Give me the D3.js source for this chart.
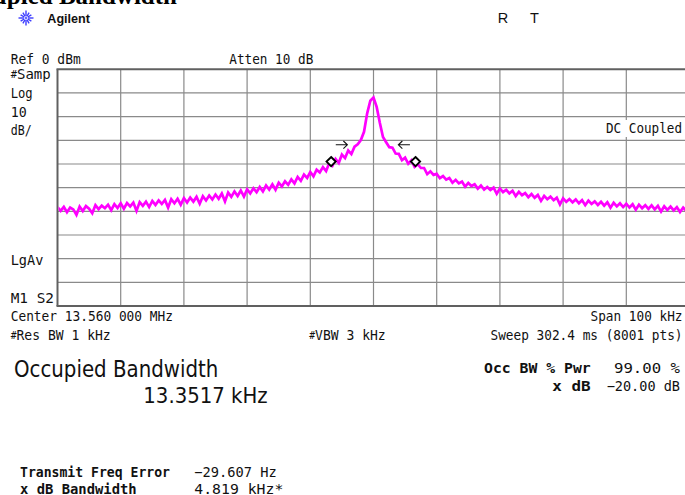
<!DOCTYPE html>
<html><head><meta charset="utf-8">
<script src="https://cdn.jsdelivr.net/npm/d3@7"></script>
<style>
html,body{margin:0;padding:0;background:#fff;}
svg{display:block;}
</style></head><body>
<svg id="chart" width="685" height="495"></svg>
<script>
// ---- Sweep settings ----
const centerMHz = 13.560;
const spanKHz = 100;
const refLevelDbm = 0;
const dbPerDiv = 10;
const divisions = 10;
const stepKHz = 0.5;           // trace sample spacing (kHz), first sample at -span/2

// ---- Trace: level in dBm, one value per 0.5 kHz from -50 kHz to +50 kHz ----
const traceDbm = [
  -58.2,-59.8,-58.1,-60.4,-58.4,-59.2,-61.5,-58.0,-59.9,-57.8,
  -58.9,-60.8,-57.4,-59.1,-57.6,-58.7,-57.2,-59.5,-57.0,-58.6,
  -56.6,-58.9,-56.5,-57.9,-56.3,-59.8,-56.1,-57.7,-55.9,-58.2,
  -55.6,-57.3,-55.4,-56.9,-55.2,-58.4,-54.9,-56.6,-54.7,-57.2,
  -54.4,-56.3,-54.2,-55.9,-53.9,-56.8,-53.6,-55.4,-53.3,-55.0,
  -52.9,-54.7,-52.5,-55.8,-52.1,-53.9,-51.6,-53.5,-51.2,-53.8,
  -50.7,-52.4,-50.3,-51.9,-49.7,-51.6,-49.1,-50.8,-48.6,-50.9,
  -47.9,-49.5,-47.3,-48.8,-46.5,-48.2,-45.5,-47.1,-44.5,-45.9,
  -43.4,-45.2,-42.4,-43.6,-41.3,-43.0,-39.6,-40.8,-37.9,-39.6,
  -36.0,-37.5,-34.3,-35.8,-32.7,-31.7,-29.9,-26.4,-18.6,-13.3,
  -11.9,
  -15.9,-22.6,-28.6,-30.8,-32.9,-33.1,-35.6,-35.7,-38.4,-37.3,
  -39.9,-38.5,-41.2,-40.1,-41.7,-41.7,-44.3,-43.1,-44.6,-44.2,
  -46.0,-45.1,-46.6,-45.9,-47.9,-46.7,-48.2,-47.4,-49.6,-48.0,
  -49.3,-48.6,-50.4,-49.1,-50.8,-49.7,-51.0,-50.0,-52.6,-50.4,
  -51.9,-50.9,-52.4,-51.3,-53.6,-51.8,-53.2,-52.3,-54.0,-52.7,
  -54.3,-53.1,-55.6,-53.5,-54.9,-53.8,-55.3,-54.2,-57.1,-54.5,
  -56.0,-54.8,-56.2,-55.0,-56.6,-55.3,-57.4,-55.5,-56.9,-55.8,
  -57.3,-56.0,-57.6,-56.2,-58.5,-56.4,-57.9,-56.6,-58.2,-56.8,
  -58.4,-57.0,-59.3,-57.2,-58.7,-57.4,-59.0,-57.5,-59.2,-57.7,
  -60.1,-57.9,-59.4,-58.0,-59.6,-58.2,-60.3,-58.4,-59.8,-58.5
];

// ---- Measurement results ----
const occBwKHz = 13.3517;
const occPowerPct = 99.00;
const xdbLevelDb = -20.00;
const freqErrorHz = -29.607;
const xdbBwKHz = 4.819;
const obwMarkerDbm = [-39.0, -39.0];     // level where the OBW edge markers sit
const xdbArrowKHz = [-5.05, 4.85];       // centres of the x dB arrow glyphs
const xdbArrowDir = [1, -1];             // → and ←

const svg = d3.select("#chart");
const MONO = "'DejaVu Sans Mono', 'Liberation Mono', monospace";
const COND = "'DejaVu Sans Condensed', 'DejaVu Sans', sans-serif";

// ---- Scales ----
const plot = {left: 57.5, top: 69.3, divW: 63.2, divH: 23.67};
const x = d3.scaleLinear()
  .domain([-spanKHz / 2, spanKHz / 2])
  .range([plot.left, plot.left + plot.divW * divisions]);
const y = d3.scaleLinear()
  .domain([refLevelDbm, refLevelDbm - dbPerDiv * divisions])
  .range([plot.top, plot.top + plot.divH * divisions]);

// ---- Graticule ----
const grid = svg.append("g");
const xTicks = d3.range(-spanKHz / 2, spanKHz / 2 + 0.001, spanKHz / divisions);
const yTicks = d3.range(0, divisions + 1).map(i => refLevelDbm - i * dbPerDiv);
grid.selectAll("line.v").data(xTicks.slice(1)).join("line")
  .attr("x1", d => x(d)).attr("x2", d => x(d))
  .attr("y1", y.range()[0]).attr("y2", y.range()[1])
  .attr("stroke", "#8a8a8a").attr("stroke-width", 1.2);
grid.selectAll("line.h").data(yTicks.slice(1, -1)).join("line")
  .attr("x1", x.range()[0]).attr("x2", x.range()[1])
  .attr("y1", d => y(d)).attr("y2", d => y(d))
  .attr("stroke", "#8a8a8a").attr("stroke-width", 1.2);
// outer frame
[yTicks[0], yTicks[yTicks.length - 1]].forEach(d => {
  grid.append("line")
    .attr("x1", x.range()[0] - 1).attr("x2", x.range()[1])
    .attr("y1", y(d)).attr("y2", y(d))
    .attr("stroke", "#606060").attr("stroke-width", 2);
});
grid.append("line")
  .attr("x1", x.range()[0]).attr("x2", x.range()[0])
  .attr("y1", y.range()[0]).attr("y2", y.range()[1])
  .attr("stroke", "#606060").attr("stroke-width", 2);

// ---- Text helper ----
function label(g, o) {
  const t = g.append("text")
    .attr("x", o.x).attr("y", o.y)
    .attr("font-family", o.font || MONO)
    .attr("font-size", o.size || 13.5)
    .attr("font-weight", o.weight || "normal")
    .attr("fill", o.fill || "#111")
    .attr("text-anchor", o.anchor || "start");
  if (o.width) t.attr("textLength", o.width).attr("lengthAdjust", "spacingAndGlyphs");
  if (o.hash) {
    t.append("tspan").attr("font-size", 10).attr("dy", -1).text("#");
    t.append("tspan").attr("dy", 1).text(o.text);
  } else {
    t.text(o.text);
  }
  return t;
}

// DC Coupled tag on a white patch
svg.append("rect").attr("x", 603).attr("y", 120).attr("width", 85).attr("height", 17).attr("fill", "#fff");
label(svg, {x: 682, y: 133.3, text: "DC Coupled", anchor: "end", width: 76});

// ---- Trace ----
svg.append("clipPath").attr("id", "plotClip").append("rect")
  .attr("x", x.range()[0] + 1).attr("y", y.range()[0])
  .attr("width", x.range()[1] - x.range()[0]).attr("height", y.range()[1] - y.range()[0]);
const line = d3.line()
  .x((d, i) => x(-spanKHz / 2 + i * stepKHz))
  .y(d => y(d));
svg.append("path")
  .datum(traceDbm)
  .attr("clip-path", "url(#plotClip)")
  .attr("d", line)
  .attr("fill", "none")
  .attr("stroke", "#ff00ff")
  .attr("stroke-width", 2.7)
  .attr("stroke-linejoin", "miter");

// ---- Occupied bandwidth edge markers ----
const obwCenterKHz = freqErrorHz / 1000;
const obwEdges = [obwCenterKHz - occBwKHz / 2, obwCenterKHz + occBwKHz / 2];
const dm = 4.6;
svg.selectAll("path.obw").data(obwEdges).join("path")
  .attr("d", (d, i) => {
    const cx = x(d), cy = y(obwMarkerDbm[i]);
    return `M${cx},${cy - dm}L${cx + dm},${cy}L${cx},${cy + dm}L${cx - dm},${cy}Z`;
  })
  .attr("fill", "#fff").attr("stroke", "#000").attr("stroke-width", 1.9);

// ---- x dB arrows at peak + x dB ----
const peakDbm = d3.max(traceDbm);
const arrowY = y(peakDbm + xdbLevelDb);
svg.selectAll("path.arrow").data(xdbArrowKHz).join("path")
  .attr("d", (d, i) => {
    const cx = x(d), s = xdbArrowDir[i], tip = cx + s * 5.8, tail = cx - s * 5.8;
    return `M${tail},${arrowY}L${tip},${arrowY}M${tip - s * 4},${arrowY - 3.8}L${tip},${arrowY}L${tip - s * 4},${arrowY + 3.8}`;
  })
  .attr("fill", "none").attr("stroke", "#111").attr("stroke-width", 1.1);

// ---- Header ----
// page title running above the capture
svg.append("text").attr("x", 177).attr("y", 3.5)
  .attr("text-anchor", "end")
  .attr("font-family", "'Liberation Serif', 'Times New Roman', serif")
  .attr("font-weight", "bold").attr("font-size", 25)
  .attr("fill", "#000").text("Occupied Bandwidth");

// Agilent spark logo
const logo = svg.append("g").attr("transform", "translate(26,18)");
d3.range(0, 360, 30).forEach(a => {
  const r = a * Math.PI / 180, long = (a % 90 === 0) ? 7.5 : 6.2;
  logo.append("line")
    .attr("x1", Math.cos(r) * 2).attr("y1", Math.sin(r) * 2)
    .attr("x2", Math.cos(r) * long).attr("y2", Math.sin(r) * long)
    .attr("stroke", "#3c3cff").attr("stroke-width", 1.4);
});
logo.append("circle").attr("r", 1.4).attr("fill", "#6a6aff");
svg.append("text").attr("x", 47.3).attr("y", 22.7)
  .attr("font-family", "'Liberation Sans', Arial, sans-serif")
  .attr("font-weight", "bold").attr("font-size", 13)
  .attr("textLength", 42.7).attr("lengthAdjust", "spacingAndGlyphs")
  .attr("fill", "#111").text("Agilent");
[["R", 497.7], ["T", 530]].forEach(([t, px]) => {
  svg.append("text").attr("x", px).attr("y", 23.3)
    .attr("font-family", "'Liberation Sans', Arial, sans-serif")
    .attr("font-size", 14.5).attr("fill", "#111").text(t);
});

// ---- Screen annotations ----
const fmt2 = d3.format(".2f"), fmt3 = d3.format(".3f"), fmt4 = d3.format(".4f");
const centerLabel = "Center " + d3.format(".6f")(centerMHz).replace(/(\.\d{3})(\d{3})/, "$1 $2") + " MHz";
[
  {x: 10.7, y: 64, text: `Ref ${refLevelDbm} dBm`, width: 70},
  {x: 229.3, y: 64, text: "Atten 10 dB", width: 84},
  {x: 10.7, y: 79.3, text: "Samp", hash: true, width: 40},
  {x: 10.7, y: 97.5, text: "Log", width: 22},
  {x: 10.7, y: 116.5, text: `${dbPerDiv}`, width: 16},
  {x: 10.7, y: 135, text: "dB/", width: 21},
  {x: 10.7, y: 265, text: "LgAv", width: 32.7},
  {x: 10.7, y: 303.3, text: "M1 S2", width: 43.3},
  {x: 10.7, y: 320.7, text: centerLabel, width: 162.3},
  {x: 682.5, y: 320.7, text: `Span ${spanKHz} kHz`, anchor: "end", width: 92},
  {x: 10.7, y: 340, text: "Res BW 1 kHz", hash: true, width: 100},
  {x: 309.3, y: 340, text: "VBW 3 kHz", hash: true, width: 76.4},
  {x: 682.5, y: 340, text: "Sweep 302.4 ms (8001 pts)", anchor: "end", width: 192},
  {x: 14, y: 376.7, text: "Occupied Bandwidth", size: 23, font: COND, width: 204.3},
  {x: 143.3, y: 403.3, text: `${fmt4(occBwKHz)} kHz`, size: 21.5, font: COND, width: 124.4},
  {x: 484, y: 373.3, text: "Occ BW % Pwr", weight: "bold", size: 13.5, width: 106.7},
  {x: 680, y: 373.3, text: `${fmt2(occPowerPct)} %`, anchor: "end", width: 66},
  {x: 552.3, y: 391, text: "x dB", weight: "bold", size: 13.5, width: 38.4},
  {x: 680, y: 391, text: `${fmt2(xdbLevelDb)} dB`, anchor: "end", width: 73.3},
  {x: 20, y: 477.3, text: "Transmit Freq Error", weight: "bold", size: 14.5, width: 150},
  {x: 194.3, y: 477.3, text: `${fmt3(freqErrorHz)} Hz`, size: 14, width: 82.4},
  {x: 20, y: 494.3, text: "x dB Bandwidth", weight: "bold", size: 14.5, width: 116.7},
  {x: 194.3, y: 494.3, text: `${fmt3(xdbBwKHz)} kHz*`, size: 14, width: 89}
].forEach(o => label(svg, o));
</script>
</body></html>
